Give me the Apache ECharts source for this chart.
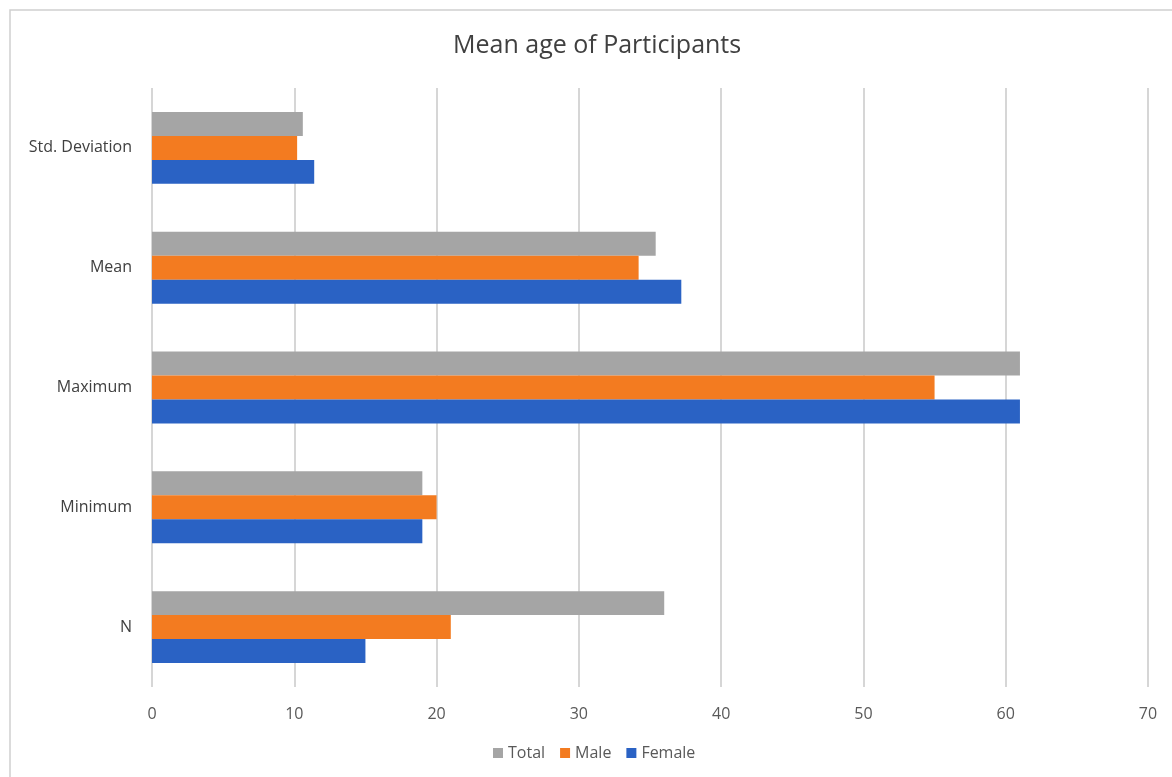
<!DOCTYPE html>
<html>
<head>
<meta charset="utf-8">
<script src="https://cdn.jsdelivr.net/npm/echarts@6/dist/echarts.min.js"></script>
<style>
html,body{margin:0;padding:0;background:#fff;}
#chart{width:1172px;height:777px;}
</style>
</head>
<body>
<div id="chart"></div>
<script>
const categories = ['Std. Deviation', 'Mean', 'Maximum', 'Minimum', 'N'];
const totalValues = [10.6, 35.4, 61, 19, 36];
const maleValues = [10.2, 34.2, 55, 20, 21];
const femaleValues = [11.4, 37.2, 61, 19, 15];
const xTicks = [0, 10, 20, 30, 40, 50, 60, 70];

const chart = echarts.init(document.getElementById('chart'));
const font = '"Open Sans", "Noto Sans", sans-serif';
chart.setOption({
  animation: false,
  textStyle: { fontFamily: font },
  title: {
    text: 'Mean age of Participants',
    left: 448,
    top: 28,
    textStyle: { fontSize: 25, fontWeight: 'normal', color: '#404040', fontFamily: font }
  },
  graphic: [{
    type: 'rect',
    shape: { x: 10, y: 10, width: 1250, height: 850 },
    style: { fill: 'none', stroke: '#d0d0d0', lineWidth: 1.5 },
    silent: true
  }],
  legend: {
    data: ['Total', 'Male', 'Female'],
    bottom: 11,
    left: 488,
    itemWidth: 10,
    itemHeight: 10,
    itemGap: 15,
    icon: 'rect',
    textStyle: { fontSize: 16, color: '#595959', fontFamily: font }
  },
  grid: { left: 152, right: 24, top: 88, bottom: 90 },
  xAxis: {
    type: 'value',
    min: xTicks[0],
    max: xTicks[xTicks.length - 1],
    interval: 10,
    axisLine: { show: false },
    axisTick: { show: false },
    axisLabel: { fontSize: 16, color: '#595959', margin: 19 },
    splitLine: { show: true, lineStyle: { color: '#c8c8c8', width: 1.5 } }
  },
  yAxis: {
    type: 'category',
    data: categories,
    inverse: true,
    axisLine: { show: false },
    axisTick: { show: false },
    axisLabel: { fontSize: 16, color: '#404040', margin: 20 }
  },
  series: [
    { name: 'Total', type: 'bar', data: totalValues, barGap: '0%', barCategoryGap: '40%',
      itemStyle: { color: '#a5a5a5' } },
    { name: 'Male', type: 'bar', data: maleValues, barGap: '0%', barCategoryGap: '40%',
      itemStyle: { color: '#f37b20' } },
    { name: 'Female', type: 'bar', data: femaleValues, barGap: '0%', barCategoryGap: '40%',
      itemStyle: { color: '#2a62c4' } }
  ]
});
</script>
</body>
</html>
